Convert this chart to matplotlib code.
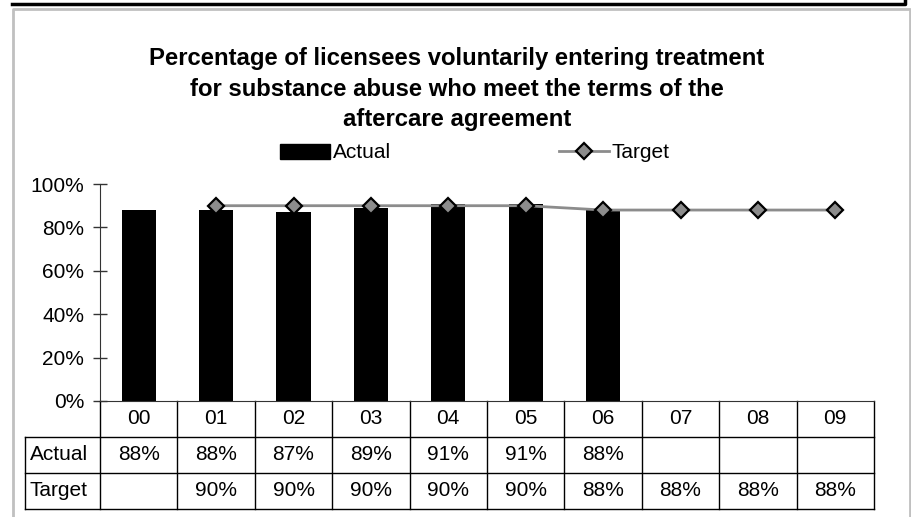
import numpy as np
import matplotlib
matplotlib.use("Agg")
import matplotlib.pyplot as plt
from matplotlib.lines import Line2D
from matplotlib.patches import Patch
import matplotlib.transforms as mtransforms

plt.rcParams['font.family'] = ['Liberation Sans', 'DejaVu Sans']

years = ['00', '01', '02', '03', '04', '05', '06', '07', '08', '09']
actual = [88, 88, 87, 89, 91, 91, 88, None, None, None]
target = [None, 90, 90, 90, 90, 90, 88, 88, 88, 88]
title = ('Percentage of licensees voluntarily entering treatment\n'
         'for substance abuse who meet the terms of the\n'
         'aftercare agreement')

W, H = 912, 517
fig = plt.figure(figsize=(W / 100, H / 100), dpi=100)

def fx(px):
    return px / W

def fy(py):
    return 1 - py / H

# plot area in pixels
L, R, T, B = 100, 874, 184, 401
ax = fig.add_axes([fx(L), fy(B), fx(R) - fx(L), fy(T) - fy(B)])

x = np.arange(len(years))
act = np.array([np.nan if v is None else v for v in actual], dtype=float) / 100
tgt = np.array([np.nan if v is None else v for v in target], dtype=float) / 100

fs = 15
ax.bar(x, act, width=0.44, color='black', zorder=2)
ax.plot(x, tgt, color='#8c8c8c', lw=2, marker='D', markersize=8.5,
        markerfacecolor='#8c8c8c', markeredgecolor='black', markeredgewidth=1.6,
        zorder=3)

ax.set_xlim(-0.5, len(years) - 0.5)
ax.set_ylim(0, 1)
ax.set_yticks(np.arange(0, 1.01, 0.2))
ax.set_yticklabels([f'{int(round(v * 100))}%' for v in np.arange(0, 1.01, 0.2)])
ax.tick_params(axis='y', direction='inout', length=9.5, width=1, labelsize=fs,
               pad=6.5, color='#333333')
ax.set_xticks([])
for s in ['top', 'right']:
    ax.spines[s].set_visible(False)
ax.spines['left'].set_color('#333333')
ax.spines['bottom'].set_color('#333333')

# data table under the axis
rh = 36 / (B - T)
trans = mtransforms.blended_transform_factory(ax.transData, ax.transAxes)
lk = dict(color='black', lw=1, transform=trans, clip_on=False)
xl = -0.5 - (L - 25) / ((R - L) / len(years))
for i in range(len(years) + 1):
    ax.add_line(Line2D([i - 0.5, i - 0.5], [0, -3 * rh], **lk))
for j in range(1, 4):
    ax.add_line(Line2D([xl, len(years) - 0.5], [-j * rh, -j * rh], **lk))
ax.add_line(Line2D([xl, xl], [-rh, -3 * rh], **lk))

for i, yv in enumerate(years):
    ax.text(i, -0.5 * rh, yv, transform=trans, ha='center', va='center', fontsize=fs)
    if actual[i] is not None:
        ax.text(i, -1.5 * rh, f'{actual[i]}%', transform=trans, ha='center',
                va='center', fontsize=fs)
    if target[i] is not None:
        ax.text(i, -2.5 * rh, f'{target[i]}%', transform=trans, ha='center',
                va='center', fontsize=fs)
ax.text(xl + 0.06, -1.5 * rh, 'Actual', transform=trans, ha='left', va='center', fontsize=fs)
ax.text(xl + 0.06, -2.5 * rh, 'Target', transform=trans, ha='left', va='center', fontsize=fs)

fig.text(fx(457), fy(89), title, ha='center', va='center', fontsize=17.2,
         fontweight='bold', linespacing=1.4)

handles = [Patch(facecolor='black', edgecolor='black'),
           Line2D([], [], color='#8c8c8c', lw=2, marker='D', markersize=8.5,
                  markerfacecolor='#8c8c8c', markeredgecolor='black',
                  markeredgewidth=1.6)]
fig.legend(handles, ['Actual', 'Target'], loc='center', ncol=2,
           bbox_to_anchor=(fx(475), fy(153)), frameon=False, fontsize=fs,
           handlelength=2.4, handletextpad=0.1, columnspacing=8.1,
           borderpad=0, handleheight=0.7)

# chart frame and page border
fig.add_artist(Line2D([fx(13), fx(13), fx(910), fx(910)], [0, fy(9), fy(9), 0],
                      color='#c0c0c0', lw=2, transform=fig.transFigure))
fig.add_artist(Line2D([fx(12), fx(905), fx(905)], [fy(4), fy(4), 1],
                      color='black', lw=2.5, transform=fig.transFigure))

fig.savefig('out.png', dpi=100)
